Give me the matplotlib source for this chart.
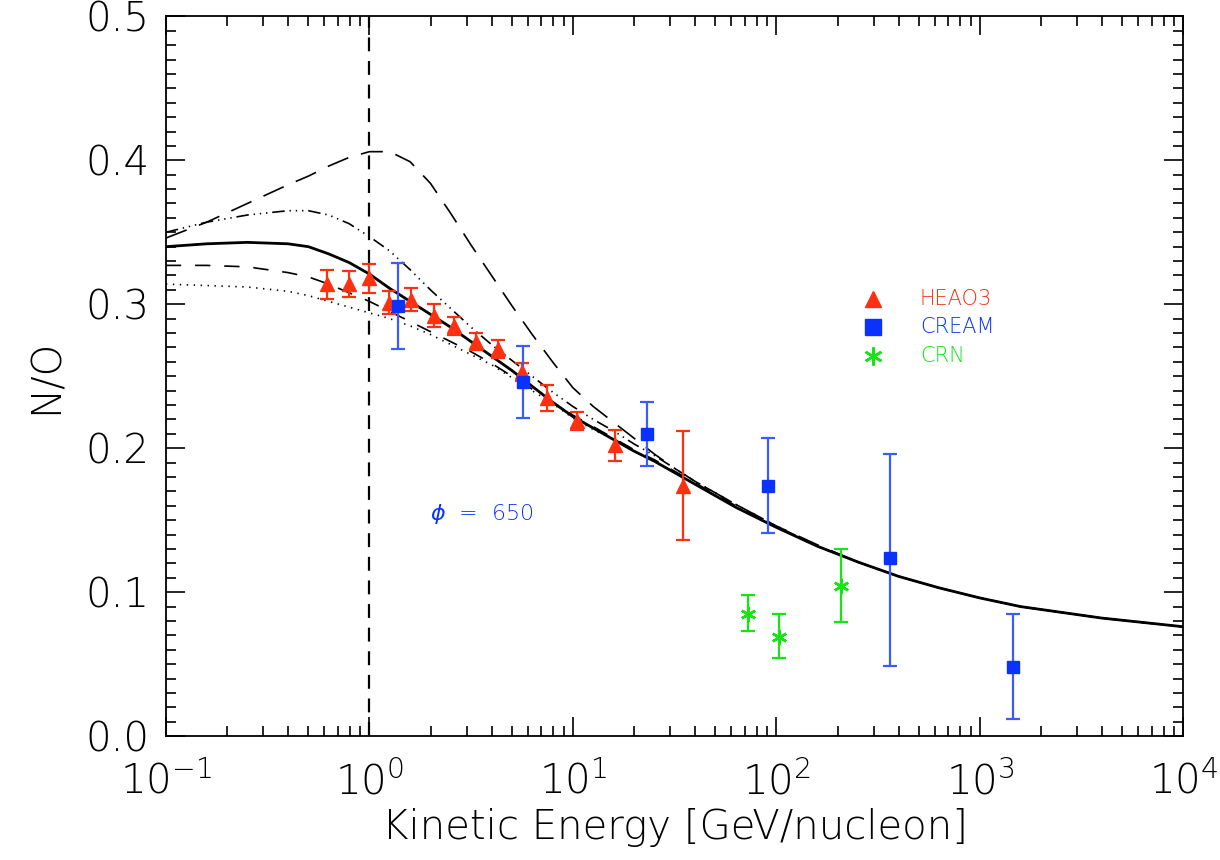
import matplotlib
matplotlib.use("Agg")
import matplotlib.pyplot as plt
import numpy as np
from matplotlib.ticker import LogLocator, MultipleLocator, FormatStrFormatter

plt.rcParams['font.family'] = ['DejaVu Sans']
plt.rcParams['font.weight'] = 'light'
plt.rcParams['axes.labelweight'] = 'light'
plt.rcParams['mathtext.default'] = 'regular'
plt.rcParams['lines.scale_dashes'] = False

# HEAO3 N/O data
heao_e = [0.62, 0.79, 1.0, 1.25, 1.6, 2.08, 2.6, 3.34, 4.28, 5.6, 7.5, 10.5, 16.1, 34.8]
heao_r = [0.314, 0.314, 0.318, 0.301, 0.303, 0.292, 0.285, 0.274, 0.269, 0.253, 0.235, 0.219, 0.202, 0.174]
heao_err = [0.010, 0.009, 0.010, 0.008, 0.008, 0.008, 0.006, 0.006, 0.006, 0.006, 0.009, 0.006, 0.011, 0.038]

# CREAM data (asymmetric errors)
cream_e = [1.38, 5.7, 23.2, 91.0, 363.0, 1460.0]
cream_r = [0.299, 0.246, 0.210, 0.174, 0.124, 0.048]
cream_lo = [0.030, 0.025, 0.022, 0.033, 0.075, 0.036]
cream_hi = [0.030, 0.025, 0.022, 0.033, 0.072, 0.037]

# CRN data
crn_e = [72.6, 103.0, 208.0]
crn_r = [0.085, 0.069, 0.104]
crn_lo = [0.012, 0.015, 0.025]
crn_hi = [0.013, 0.016, 0.026]

# model curves on a log10(E) grid
log_e = [-1.0, -0.8, -0.6, -0.4, -0.3, -0.2, -0.1, 0.0, 0.1, 0.2, 0.3, 0.4, 0.5, 0.6,
         0.7, 0.8, 0.9, 1.0, 1.1, 1.2, 1.3, 1.4, 1.5, 1.6, 1.8, 2.0, 2.2, 2.4,
         2.6, 2.8, 3.0, 3.2, 3.4, 3.6, 3.8, 4.0]
model_solid = [0.340, 0.342, 0.343, 0.342, 0.340, 0.335, 0.329, 0.321, 0.311, 0.302, 0.293, 0.284, 0.274, 0.264,
               0.254, 0.243, 0.232, 0.222, 0.214, 0.206, 0.198, 0.191, 0.183, 0.175, 0.159, 0.145, 0.132, 0.121,
               0.111, 0.103, 0.096, 0.090, 0.086, 0.082, 0.079, 0.076]
model_longdash = [0.346, 0.357, 0.370, 0.383, 0.389, 0.396, 0.402, 0.406, 0.406, 0.399, 0.384, 0.363, 0.341, 0.320,
                  0.299, 0.279, 0.260, 0.242, 0.229, 0.218, 0.207, 0.196, 0.186, 0.177, 0.161, 0.146, 0.133, 0.121,
                  0.111, 0.103, 0.096, 0.090, 0.086, 0.082, 0.079, 0.076]
model_dashdot = [0.350, 0.357, 0.362, 0.365, 0.365, 0.362, 0.356, 0.347, 0.337, 0.324, 0.310, 0.297, 0.284, 0.272,
                 0.261, 0.250, 0.239, 0.229, 0.220, 0.212, 0.203, 0.195, 0.186, 0.177, 0.161, 0.146, 0.132, 0.121,
                 0.111, 0.103, 0.096, 0.090, 0.086, 0.082, 0.079, 0.076]
model_dash = [0.327, 0.327, 0.326, 0.322, 0.319, 0.314, 0.308, 0.302, 0.295, 0.288, 0.281, 0.274, 0.267, 0.259,
              0.250, 0.241, 0.232, 0.223, 0.215, 0.207, 0.199, 0.192, 0.184, 0.176, 0.160, 0.145, 0.132, 0.121,
              0.111, 0.103, 0.096, 0.090, 0.086, 0.082, 0.079, 0.076]
model_dot = [0.314, 0.313, 0.312, 0.309, 0.306, 0.302, 0.298, 0.294, 0.290, 0.285, 0.279, 0.272, 0.265, 0.258,
             0.249, 0.240, 0.231, 0.221, 0.213, 0.206, 0.198, 0.191, 0.183, 0.175, 0.159, 0.145, 0.132, 0.121,
             0.111, 0.103, 0.096, 0.090, 0.086, 0.082, 0.079, 0.076]

red = '#ff3010'
blue = '#0a32ff'
blue_bar = '#3a5cff'
green = '#14e614'

fig = plt.figure(figsize=(12.2, 8.6), dpi=100)
ax = fig.add_axes([0.136, 0.144, 0.834, 0.837])

energy = 10 ** np.array(log_e)
ax.plot(energy, model_longdash, color='k', lw=1.2, dashes=(16, 9.5))
ax.plot(energy, model_dashdot, color='k', lw=1.2, dashes=(9, 3.5, 1, 3.5, 1, 3.5, 1, 3.5))
ax.plot(energy, model_dash, color='k', lw=1.2, dashes=(11, 10))
ax.plot(energy, model_dot, color='k', lw=1.2, dashes=(1, 4))
ax.plot(energy, model_solid, color='k', lw=2.0)

# solar modulation reference
ax.axvline(1.0, color='k', lw=1.6, dashes=(10, 7))

ax.errorbar(heao_e, heao_r, yerr=heao_err, fmt='^', color=red, ms=10,
            ecolor=red, elinewidth=1.6, capsize=5, capthick=1.6, zorder=5)
ax.errorbar(cream_e, cream_r, yerr=[cream_lo, cream_hi], fmt='s', color=blue, ms=8.5,
            ecolor=blue_bar, elinewidth=1.6, capsize=5, capthick=1.6, zorder=5)
ax.errorbar(crn_e, crn_r, yerr=[crn_lo, crn_hi], fmt='none',
            ecolor=green, elinewidth=1.6, capsize=5, capthick=1.6, zorder=5)
ax.plot(crn_e, crn_r, linestyle='none', marker=(6, 2, 0), ms=11, mew=1.8,
        color=green, zorder=6)

# legend drawn by hand
legend_rows = [('HEAO3', red, '^', 12, 1.0), ('CREAM', blue, 's', 11, 1.0),
               ('CRN', green, (6, 2, 0), 13, 1.8)]
for i, (name, col, mk, size, mew) in enumerate(legend_rows):
    y = 0.608 - 0.040 * i
    ax.plot([0.695], [y], transform=ax.transAxes, marker=mk, color=col,
            ms=size, mew=mew, linestyle='none')
    ax.text(0.741, y, name, transform=ax.transAxes, color=col,
            fontsize=15, va='center', ha='left')

ax.text(0.26, 0.308, r'$\it{\phi}$  =  650', transform=ax.transAxes, color=blue,
        fontsize=16, va='center', ha='left')

ax.set_xscale('log')
ax.set_xlim(0.1, 1e4)
ax.set_ylim(0.0, 0.5)
ax.xaxis.set_major_locator(LogLocator(base=10, numticks=10))
ax.xaxis.set_minor_locator(LogLocator(base=10, subs=np.arange(2, 10), numticks=20))
ax.yaxis.set_major_locator(MultipleLocator(0.1))
ax.yaxis.set_minor_locator(MultipleLocator(0.01))
ax.yaxis.set_major_formatter(FormatStrFormatter('%.1f'))

ax.tick_params(which='both', direction='in', top=True, right=True,
               labelsize=29, width=1.2)
ax.tick_params(which='major', length=14)
ax.tick_params(axis='x', which='major', pad=18)
ax.tick_params(axis='y', which='major', pad=12)
ax.tick_params(which='minor', length=7)
for sp in ax.spines.values():
    sp.set_linewidth(1.3)

ax.set_xlabel('Kinetic Energy [GeV/nucleon]', fontsize=29, labelpad=4)
ax.set_ylabel('N/O', fontsize=29, labelpad=14)

fig.savefig('out.png', dpi=100)
